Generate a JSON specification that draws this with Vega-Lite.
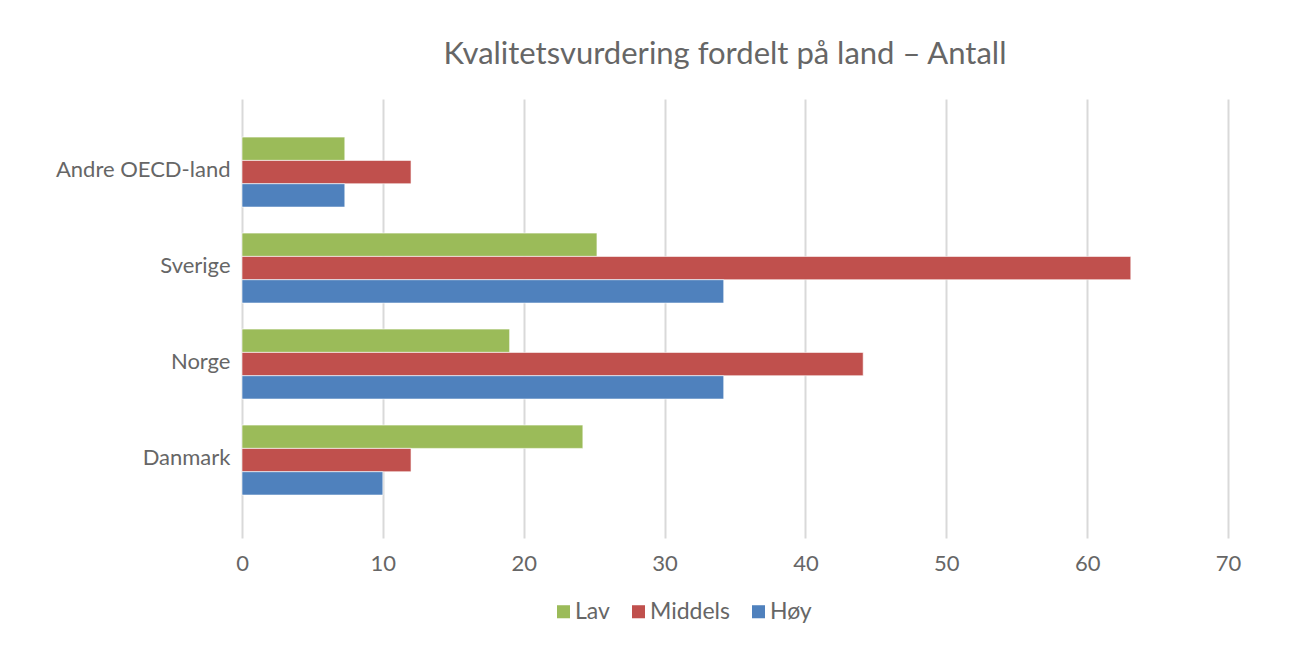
{
  "$schema": "https://vega.github.io/schema/vega-lite/v6.json",
  "width": 986,
  "height": 439,
  "autosize": {"type": "none"},
  "padding": {"left": 242, "top": 99, "right": 62, "bottom": 113},
  "background": "white",
  "title": {
    "text": "Kvalitetsvurdering fordelt på land – Antall",
    "font": "Lato",
    "fontSize": 31,
    "fontWeight": "normal",
    "color": "#666666",
    "anchor": "middle",
    "offset": 28,
    "dx": -10
  },
  "data": {
    "values": [
      {"land": "Andre OECD-land", "niva": "Lav", "antall": 7.3},
      {"land": "Andre OECD-land", "niva": "Middels", "antall": 12},
      {"land": "Andre OECD-land", "niva": "Høy", "antall": 7.3},
      {"land": "Sverige", "niva": "Lav", "antall": 25.2},
      {"land": "Sverige", "niva": "Middels", "antall": 63.1},
      {"land": "Sverige", "niva": "Høy", "antall": 34.2},
      {"land": "Norge", "niva": "Lav", "antall": 19},
      {"land": "Norge", "niva": "Middels", "antall": 44.1},
      {"land": "Norge", "niva": "Høy", "antall": 34.2},
      {"land": "Danmark", "niva": "Lav", "antall": 24.2},
      {"land": "Danmark", "niva": "Middels", "antall": 12},
      {"land": "Danmark", "niva": "Høy", "antall": 10}
    ]
  },
  "mark": {"type": "bar", "stroke": "white", "strokeWidth": 1, "strokeOpacity": 0.6},
  "encoding": {
    "y": {
      "field": "land",
      "type": "nominal",
      "sort": ["Andre OECD-land", "Sverige", "Norge", "Danmark"],
      "scale": {"paddingInner": 0.271, "paddingOuter": 0.422, "align": 0.47},
      "axis": {
        "title": null,
        "domain": false,
        "ticks": false,
        "labelPadding": 12,
        "labelFont": "Lato",
        "labelFontSize": 22,
        "labelColor": "#666666",
        "labelOffset": -2
      }
    },
    "yOffset": {
      "field": "niva",
      "type": "nominal",
      "sort": ["Lav", "Middels", "Høy"],
      "scale": {"paddingInner": 0, "paddingOuter": 0}
    },
    "x": {
      "field": "antall",
      "type": "quantitative",
      "scale": {"domain": [0, 70], "nice": false},
      "axis": {
        "title": null,
        "values": [0, 10, 20, 30, 40, 50, 60, 70],
        "domain": false,
        "ticks": false,
        "grid": true,
        "gridColor": "#D9D9D9",
        "gridWidth": 2,
        "labelFlush": false,
        "labelPadding": 15,
        "labelFont": "Lato",
        "labelFontSize": 22,
        "labelColor": "#666666"
      }
    },
    "color": {
      "field": "niva",
      "type": "nominal",
      "scale": {"domain": ["Lav", "Middels", "Høy"], "range": ["#9BBB59", "#C0504D", "#4F81BD"]},
      "legend": {
        "title": null,
        "orient": "none",
        "direction": "horizontal",
        "legendX": 310,
        "legendY": 501,
        "symbolType": "square",
        "symbolSize": 170,
        "symbolStrokeWidth": 0,
        "labelFont": "Lato",
        "labelFontSize": 23,
        "labelColor": "#666666",
        "labelOffset": 0,
        "columnPadding": 17
      }
    }
  },
  "config": {
    "view": {"stroke": null}
  }
}
